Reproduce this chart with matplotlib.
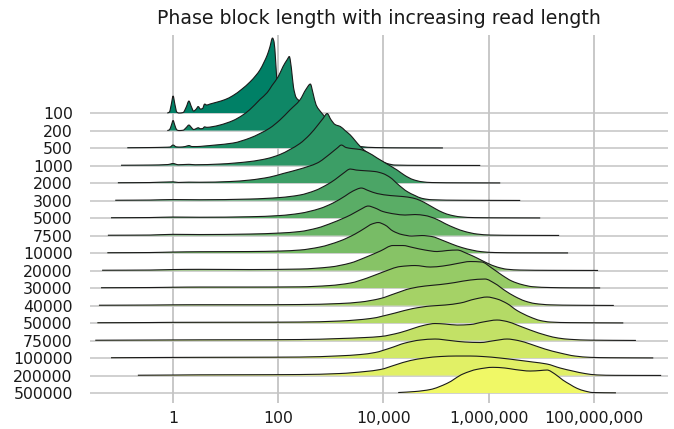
import matplotlib
matplotlib.use("Agg")
import matplotlib.pyplot as plt
from matplotlib.path import Path
from matplotlib.patches import PathPatch
import numpy as np

# ---------------- data ----------------
title = "Phase block length with increasing read length"
read_lengths = ["100", "200", "500", "1000", "2000", "3000", "5000", "7500",
                "10000", "20000", "30000", "40000", "50000", "75000",
                "100000", "200000", "500000"]
xtick_pos = [0, 2, 4, 6, 8]                    # log10(phase block length)
xtick_labels = ["1", "100", "10,000", "1,000,000", "100,000,000"]

# density curves: x = log10(phase block length), d = relative density
x_100 = [-0.11, -0.07, -0.035, 0, 0.035, 0.07, 0.11, 0.19, 0.25, 0.30, 0.35, 0.39, 0.44, 0.477,
         0.52, 0.56, 0.60, 0.64, 0.70, 0.84, 0.99, 1.14, 1.31, 1.46, 1.58, 1.65, 1.73, 1.79,
         1.84, 1.89, 1.92, 1.95, 1.98, 2.01, 2.03]
d_100 = [0, 1, 8.5, 17, 8.5, 1, 0, 0.5, 6, 12, 6, 2, 4, 6.5, 4, 4.5, 9, 8, 9, 11, 13.5, 17.5, 24,
         31, 38, 43, 51, 58, 66, 75, 71, 52, 27, 8, 0]
x_200 = [-0.11, -0.07, -0.035, 0, 0.035, 0.07, 0.11, 0.19, 0.25, 0.30, 0.35, 0.39, 0.44, 0.477,
         0.52, 0.56, 0.60, 0.64, 0.74, 0.89, 1.14, 1.31, 1.46, 1.65, 1.79, 1.88, 2.00, 2.09, 2.17,
         2.21, 2.25, 2.29, 2.34, 2.42, 2.51, 2.61, 2.79, 2.98, 3.08]
d_200 = [0, 0.7, 5, 10, 5, 0.7, 0, 0.3, 3, 5.5, 3, 1, 2, 2.8, 1.8, 2, 3.7, 3.2, 3.8, 5.5, 10, 15,
         21, 31, 38, 45, 54, 64, 71, 74, 62, 43, 33, 29, 25.5, 20, 11, 4.5, 1.5]
x_500 = [-0.87, -0.44, -0.15, -0.06, 0, 0.06, 0.13, 0.23, 0.30, 0.36, 0.46, 0.59, 0.80, 1.14,
         1.46, 1.65, 1.84, 2.03, 2.22, 2.41, 2.53, 2.61, 2.66, 2.72, 2.78, 2.89, 3.02, 3.18,
         3.37, 3.56, 3.84, 4.32, 5.13]
d_500 = [0.3, 0.5, 0.8, 1, 3, 1.2, 1, 1.5, 2.5, 1.5, 1.5, 2, 3, 5, 10, 14.5, 20, 28, 38, 48,
         59, 64, 55, 43, 38, 31, 22, 13, 5, 1.5, 0.5, 0.2, 0.1]
x_1000 = [-0.99, -0.44, -0.10, 0, 0.10, 0.30, 0.42, 0.89, 1.46, 1.79, 2.03, 2.22, 2.41, 2.60,
          2.76, 2.85, 2.93, 3.00, 3.08, 3.18, 3.27, 3.37, 3.46, 3.56, 3.69, 3.80, 3.94, 4.07,
          4.22, 4.70, 5.84]
d_1000 = [0.3, 0.5, 1, 2, 0.8, 1.2, 0.8, 1.5, 4, 7, 11, 16, 22, 31, 41, 47, 52, 46, 41, 39, 35,
          30.5, 25, 19, 13, 9, 5, 2, 0.5, 0.2, 0.1]
x_2000 = [-1.05, -0.44, 0, 0.10, 0.30, 0.51, 1.08, 1.46, 1.84, 2.09, 2.41, 2.74, 2.98, 3.12,
          3.20, 3.29, 3.40, 3.56, 3.69, 3.88, 4.07, 4.26, 4.41, 4.56, 4.73, 4.92, 5.46, 6.22]
d_2000 = [0.3, 0.5, 1.2, 0.6, 0.9, 0.8, 1.5, 3, 6, 9.5, 14, 20, 29, 35, 38, 35.5, 34.5, 33.5,
          31, 25, 19, 13, 7.5, 3.5, 1.3, 0.5, 0.2, 0.1]
x_3000 = [-1.10, -0.44, 0, 0.51, 1.46, 2.03, 2.41, 2.70, 2.93, 3.08, 3.23, 3.37, 3.48, 3.65,
          3.84, 3.99, 4.13, 4.28, 4.45, 4.60, 4.73, 4.92, 5.46, 6.60]
d_3000 = [0.3, 0.5, 1, 0.8, 1.5, 3, 5.5, 10, 16, 21, 27, 31.5, 30.5, 29.8, 29, 27, 23, 16, 9,
          5, 2.2, 0.8, 0.3, 0.1]
x_5000 = [-1.18, -0.44, 0, 0.51, 1.46, 2.03, 2.41, 2.79, 3.04, 3.27, 3.42, 3.58, 3.71, 3.88,
          4.13, 4.37, 4.56, 4.70, 4.83, 4.98, 5.13, 5.27, 5.46, 5.74, 6.22, 6.98]
d_5000 = [0.3, 0.5, 1, 0.8, 1.3, 2.5, 4.7, 9.5, 15, 22, 27, 30, 27.5, 24.5, 22.5, 21.5, 20,
          17.5, 14, 9.5, 5.5, 3, 1.2, 0.4, 0.2, 0.1]
x_7500 = [-1.24, -0.44, 0, 0.51, 1.46, 2.03, 2.41, 2.74, 3.04, 3.37, 3.56, 3.71, 3.84, 3.99,
          4.22, 4.41, 4.60, 4.79, 4.98, 5.17, 5.36, 5.55, 5.78, 6.03, 6.60, 7.34]
d_7500 = [0.3, 0.5, 1.2, 1, 1.5, 2.5, 4, 7.5, 13, 20.5, 26, 29.5, 27.5, 24, 21.5, 20.5, 21, 20,
          17, 12, 7.5, 4, 1.5, 0.5, 0.2, 0.1]
x_10000 = [-1.25, -0.44, 0, 0.51, 1.46, 2.03, 2.41, 2.79, 3.17, 3.46, 3.65, 3.78, 3.90, 4.03,
           4.18, 4.35, 4.54, 4.73, 4.92, 5.11, 5.30, 5.49, 5.68, 5.87, 6.12, 6.60, 7.51]
d_10000 = [0.3, 0.5, 1, 1.3, 1.5, 2, 3, 6, 12, 19, 25, 29, 30.5, 28, 22, 18.5, 17, 17.5, 16.5,
           13, 9, 5.5, 3, 1.3, 0.5, 0.2, 0.1]
x_20000 = [-1.35, -0.44, 0, 0.51, 1.46, 2.41, 2.98, 3.37, 3.65, 3.94, 4.18, 4.37, 4.56, 4.79,
           5.02, 5.21, 5.40, 5.59, 5.78, 5.97, 6.16, 6.35, 6.60, 7.17, 8.08]
d_20000 = [0.3, 0.5, 1, 1.2, 1, 1.5, 3.5, 7.5, 13, 19.5, 25, 25, 23, 20.5, 19, 20, 20.5, 17,
           12.5, 7.5, 3.5, 1.3, 0.5, 0.2, 0.1]
x_30000 = [-1.37, -0.44, 0, 0.51, 1.46, 2.41, 2.98, 3.37, 3.69, 3.99, 4.32, 4.60, 4.89, 5.13,
           5.40, 5.65, 5.87, 6.06, 6.25, 6.44, 6.63, 6.84, 7.17, 7.55, 8.12]
d_30000 = [0.3, 0.5, 0.8, 1, 1, 1.2, 2.5, 5, 10, 16, 21.5, 22.5, 21, 22, 24.5, 26.5, 26, 20,
           13, 7, 3.5, 1.3, 0.5, 0.2, 0.1]
x_40000 = [-1.41, -0.44, 0, 0.51, 1.46, 2.41, 3.17, 3.56, 3.94, 4.22, 4.51, 4.79, 5.08, 5.36,
           5.65, 5.93, 6.12, 6.31, 6.50, 6.69, 6.88, 7.17, 7.64, 8.38]
d_40000 = [0.3, 0.5, 0.7, 0.8, 0.8, 1, 2, 3.5, 7, 12, 17, 19.5, 21, 23, 25.5, 26.5, 22, 15, 9,
           4.5, 2, 0.7, 0.3, 0.1]
x_50000 = [-1.44, -0.44, 0, 1.46, 2.41, 3.17, 3.75, 4.22, 4.56, 4.89, 5.17, 5.46, 5.74, 5.97,
           6.16, 6.35, 6.54, 6.79, 6.98, 7.17, 7.55, 8.56]
d_50000 = [0.3, 0.5, 0.7, 0.8, 1, 2, 4.5, 10, 14.5, 17, 18, 20, 24, 26, 24, 19.5, 12.5, 6, 2.5,
           1, 0.4, 0.1]
x_75000 = [-1.48, -0.44, 0.51, 1.46, 2.41, 3.17, 3.65, 3.94, 4.32, 4.56, 4.79, 4.98, 5.17, 5.40,
           5.65, 5.89, 6.16, 6.35, 6.54, 6.79, 7.11, 7.32, 7.55, 7.93, 8.80]
d_75000 = [0.3, 0.5, 0.7, 0.8, 1, 2, 3, 4, 8, 12, 15.5, 17, 16.5, 15.5, 16, 18.5, 20.5, 19,
           15.5, 10.5, 5, 2.5, 1.2, 0.4, 0.1]
x_100000 = [-1.18, -0.44, 0.51, 1.46, 2.41, 3.17, 3.56, 3.84, 4.13, 4.41, 4.70, 4.98, 5.27,
            5.55, 5.84, 6.12, 6.35, 6.56, 6.79, 7.07, 7.36, 7.64, 7.93, 8.31, 9.13]
d_100000 = [0.3, 0.5, 0.7, 0.8, 1, 2.2, 3.5, 5.5, 10, 15, 18, 19, 17.5, 16, 15.5, 17.5, 19,
            17.5, 14, 9, 5, 2, 0.7, 0.3, 0.1]
x_200000 = [-0.67, 0, 0.51, 1.46, 2.41, 3.17, 3.65, 3.94, 4.22, 4.51, 4.79, 5.08, 5.38, 5.65,
            5.89, 6.22, 6.54, 6.84, 7.11, 7.36, 7.60, 7.83, 8.06, 8.40, 9.28]
d_200000 = [0.3, 0.5, 0.7, 0.8, 1, 2, 4, 6, 10.5, 15, 17.5, 19, 19.5, 19.5, 19, 17.5, 15.5,
            13.5, 11.5, 7.5, 4.5, 2, 0.6, 0.2, 0.1]
x_500000 = [4.28, 4.60, 4.89, 5.21, 5.51, 5.78, 6.08, 6.31, 6.50, 6.79, 6.98, 7.11, 7.26, 7.41,
            7.55, 7.68, 7.83, 7.98, 8.42]
d_500000 = [0.5, 1.5, 3.5, 9.7, 19, 23.7, 25.7, 25, 23.5, 22, 22.5, 23, 19, 13, 8.5, 4.7, 2,
            0.5, 0.2]

curves_x = [x_100, x_200, x_500, x_1000, x_2000, x_3000, x_5000, x_7500, x_10000, x_20000,
            x_30000, x_40000, x_50000, x_75000, x_100000, x_200000, x_500000]
curves_d = [d_100, d_200, d_500, d_1000, d_2000, d_3000, d_5000, d_7500, d_10000, d_20000,
            d_30000, d_40000, d_50000, d_75000, d_100000, d_200000, d_500000]


def smooth_path(xs, ys):
    """Monotone cubic Bezier path through the read points (drawn by matplotlib)."""
    xs = np.asarray(xs, float)
    ys = np.asarray(ys, float)
    dx = np.diff(xs)
    s = np.diff(ys) / dx
    m = np.zeros_like(ys)
    m[0], m[-1] = s[0], s[-1]
    for k in range(1, len(xs) - 1):
        if s[k - 1] * s[k] <= 0:
            m[k] = 0.0
        else:
            w1 = 2 * dx[k] + dx[k - 1]
            w2 = dx[k] + 2 * dx[k - 1]
            m[k] = (w1 + w2) / (w1 / s[k - 1] + w2 / s[k])
    verts = [(xs[0], ys[0])]
    codes = [Path.MOVETO]
    for k in range(len(xs) - 1):
        h = dx[k] / 3
        verts += [(xs[k] + h, ys[k] + m[k] * h),
                  (xs[k + 1] - h, ys[k + 1] - m[k + 1] * h),
                  (xs[k + 1], ys[k + 1])]
        codes += [Path.CURVE4] * 3
    return verts, codes


# ---------------- drawing ----------------
W, H = 674, 429
fig = plt.figure(figsize=(W / 100, H / 100), dpi=100)
ax = fig.add_axes([90 / W, 26 / H, 578 / W, 368 / H])

n = len(read_lengths)
scale = 1 / 17.5          # density units -> row spacing
cmap = plt.get_cmap("summer")
grid_col = "#c4c4c4"

for i, (xs, ds) in enumerate(zip(curves_x, curves_d)):
    base = n - 1 - i
    ys = base + np.asarray(ds, float) * scale
    verts, codes = smooth_path(xs, ys)
    fverts = verts + [(xs[-1], base), (xs[0], base), (xs[0], base)]
    fcodes = codes + [Path.LINETO, Path.LINETO, Path.CLOSEPOLY]
    ax.axhline(base, color=grid_col, lw=1.1, zorder=1)
    ax.add_patch(PathPatch(Path(fverts, fcodes), facecolor=cmap(i / n), edgecolor="none",
                           lw=0, zorder=10 + 2 * i))
    ax.add_patch(PathPatch(Path(verts, codes), facecolor="none", edgecolor="#1a1a1a",
                           lw=0.8, zorder=11 + 2 * i, joinstyle="round"))

for xv in xtick_pos:
    ax.axvline(xv, color=grid_col, lw=1.3, zorder=0)

ax.set_xlim(-1.58, 9.41)
ax.set_ylim(-0.57, 20.46)
ax.set_xticks(xtick_pos)
ax.set_xticklabels(xtick_labels, fontsize=11.3, color="#1a1a1a")
ax.set_yticks([n - 1 - i for i in range(n)])
ax.set_yticklabels(read_lengths, fontsize=11.3, color="#1a1a1a")
ax.tick_params(axis="both", length=0)
ax.tick_params(axis="x", pad=6)
ax.tick_params(axis="y", pad=12.5)
for s in ax.spines.values():
    s.set_visible(False)

fig.text(379 / W, 1 - 18 / H, title, ha="center", va="center", fontsize=13.6,
         color="#1a1a1a")

fig.savefig("out.png", dpi=100)
